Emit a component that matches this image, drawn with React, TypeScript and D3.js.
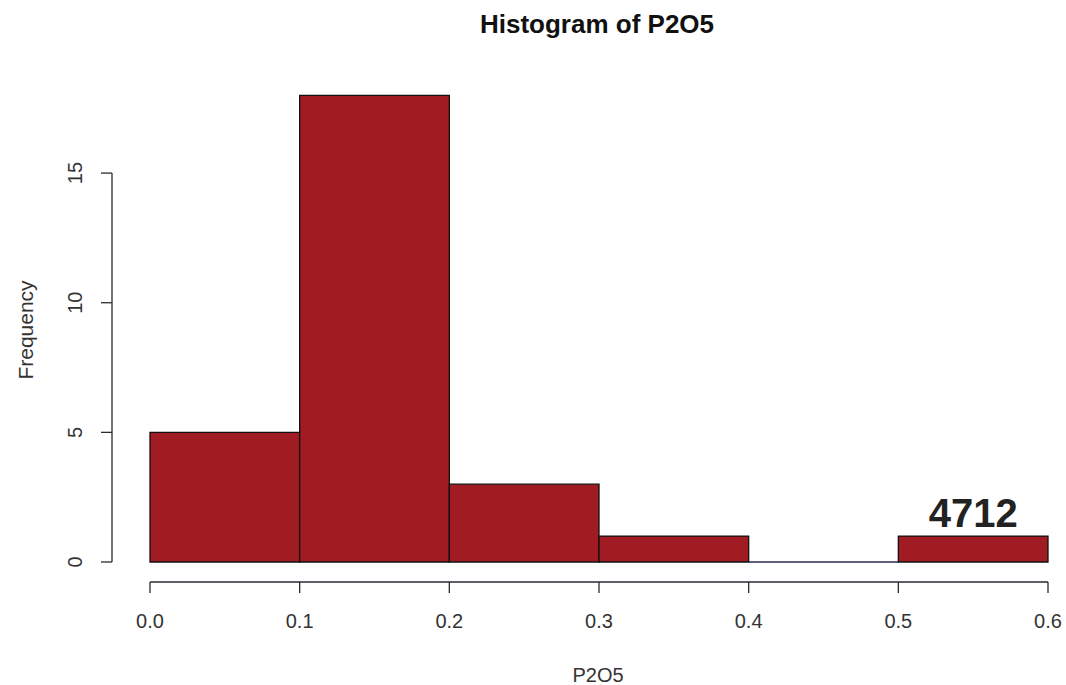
import React from "react";
import * as d3 from "d3";

const binStarts = [0.0, 0.1, 0.2, 0.3, 0.4, 0.5];
const binWidth = 0.1;
const counts = [5, 18, 3, 1, 0, 1];
const xTicks = [0.0, 0.1, 0.2, 0.3, 0.4, 0.5, 0.6];
const yTicks = [0, 5, 10, 15];
const title = "Histogram of P2O5";
const xLabel = "P2O5";
const yLabel = "Frequency";
const annotation = "4712";

const W = 1066;
const H = 685;
const FONT = "'Liberation Sans', Arial, Helvetica, sans-serif";

export default function App() {
  const x = d3.scaleLinear().domain([0, 0.6]).range([150, 1048]);
  const y = d3.scaleLinear().domain([0, 18]).range([562, 95.3]);
  const axisY = 582;
  const yAxisX = 112;
  const fill = "#A01C22";
  const axisColor = "#2a2a33";
  const textColor = "#333";

  const barPath = (s: number, c: number) => {
    const p = d3.path();
    p.moveTo(x(s), y(0));
    p.lineTo(x(s + binWidth), y(0));
    p.lineTo(x(s + binWidth), y(c));
    p.lineTo(x(s), y(c));
    p.closePath();
    return p.toString();
  };

  return (
    <svg
      width={W}
      height={H}
      style={{ position: "absolute", left: 0, top: 0, background: "#fff" }}
      fontFamily={FONT}
    >
      <rect x={0} y={0} width={W} height={H} fill="#fff" />
      {/* bars */}
      {binStarts.map((s, i) => (
        <path
          key={i}
          d={barPath(s, counts[i])}
          fill={fill}
          stroke={counts[i] === 0 ? "#2a2a55" : "#111"}
          strokeWidth={1.3}
        />
      ))}
      {/* annotation */}
      <text
        x={x(0.55)}
        y={527}
        textAnchor="middle"
        fontSize={40}
        fontWeight="bold"
        fill="#222"
      >
        {annotation}
      </text>
      {/* x axis */}
      <line x1={x(0)} x2={x(0.6)} y1={axisY} y2={axisY} stroke={axisColor} strokeWidth={1.3} />
      {xTicks.map((t) => (
        <g key={t}>
          <line x1={x(t)} x2={x(t)} y1={axisY} y2={axisY + 11} stroke={axisColor} strokeWidth={1.3} />
          <text x={x(t)} y={628} textAnchor="middle" fontSize={20} fill={textColor}>
            {t.toFixed(1)}
          </text>
        </g>
      ))}
      {/* y axis */}
      <line x1={yAxisX} x2={yAxisX} y1={y(0)} y2={y(15)} stroke={axisColor} strokeWidth={1.3} />
      {yTicks.map((t) => (
        <g key={t}>
          <line x1={yAxisX - 11} x2={yAxisX} y1={y(t)} y2={y(t)} stroke={axisColor} strokeWidth={1.3} />
          <text
            transform={`translate(${82},${y(t)}) rotate(-90)`}
            textAnchor="middle"
            fontSize={20}
            fill={textColor}
          >
            {t}
          </text>
        </g>
      ))}
      {/* labels */}
      <text x={597} y={33} textAnchor="middle" fontSize={26} fontWeight="bold" fill="#111">
        {title}
      </text>
      <text x={598} y={682} textAnchor="middle" fontSize={20} fill={textColor}>
        {xLabel}
      </text>
      <text
        transform={`translate(${33},${330}) rotate(-90)`}
        textAnchor="middle"
        fontSize={21}
        fill={textColor}
      >
        {yLabel}
      </text>
    </svg>
  );
}
